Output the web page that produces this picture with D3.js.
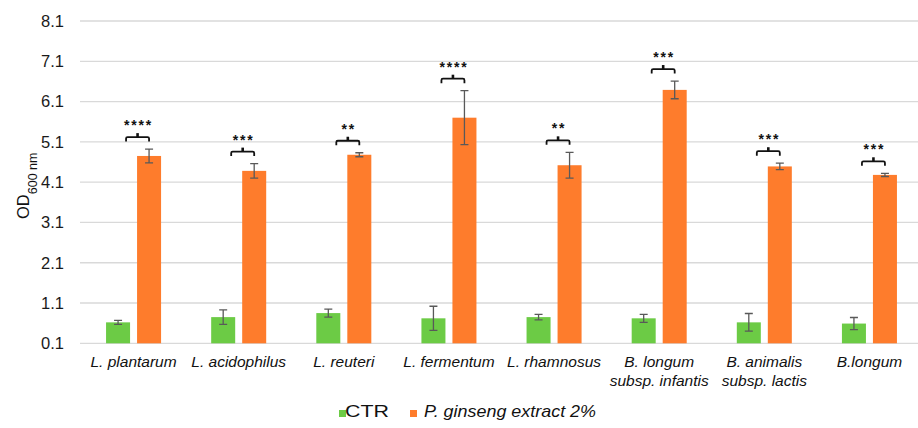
<!DOCTYPE html>
<html>
<head>
<meta charset="utf-8">
<script src="https://cdn.jsdelivr.net/npm/d3@7"></script>
<style>
  html, body { margin: 0; padding: 0; background: #fff; }
  svg { display: block; font-family: "Liberation Sans", Arial, sans-serif; }
</style>
</head>
<body>
<svg id="chart" width="918" height="428"></svg>
<script>
// Strains (multi-line labels split on "\n")
const categories = [
  "L. plantarum", "L. acidophilus", "L. reuteri", "L. fermentum",
  "L. rhamnosus", "B. longum\nsubsp. infantis", "B. animalis\nsubsp. lactis", "B.longum"
];
// OD600 means and standard deviations
const ctrValues   = [0.62, 0.75, 0.85, 0.72, 0.75, 0.72, 0.62, 0.59];
const ctrErrors   = [0.05, 0.18, 0.10, 0.30, 0.07, 0.10, 0.22, 0.15];
const ginsValues  = [4.75, 4.38, 4.78, 5.70, 4.52, 6.39, 4.49, 4.28];
const ginsErrors  = [0.17, 0.18, 0.05, 0.67, 0.32, 0.22, 0.08, 0.04];
const significance = ["****", "***", "**", "****", "**", "***", "***", "***"];
const seriesNames = ["CTR", "P. ginseng extract 2%"];
const yTicks = [0.1, 1.1, 2.1, 3.1, 4.1, 5.1, 6.1, 7.1, 8.1];

const colors = { ctr: "#6ccb45", gins: "#fe7c2c" };

const svg = d3.select("#chart");

const x = d3.scaleBand().domain(categories).range([81, 922]).padding(0);
const inner = d3.scaleBand().domain(["ctr", "gins"])
  .range([0, x.bandwidth()])
  .paddingInner(7 / 31).paddingOuter(0.808);
const y = d3.scaleLinear().domain([0.1, 8.1]).range([343.3, 21]);

// Horizontal gridlines
svg.append("g").selectAll("line").data(yTicks).join("line")
  .attr("x1", 80).attr("x2", 918)
  .attr("y1", d => y(d)).attr("y2", d => y(d))
  .attr("stroke", "#d9d9d9").attr("stroke-width", 1.3);

// Y axis tick labels
const yAxis = d3.axisLeft(y).tickValues(yTicks).tickFormat(d3.format(".1f")).tickSize(0).tickPadding(0);
const yg = svg.append("g").attr("transform", "translate(64,0)").call(yAxis);
yg.select(".domain").remove();
yg.selectAll("text")
  .attr("font-size", 16.5).attr("fill", "#1a1a1a")
  .attr("font-family", "Liberation Sans, Arial, sans-serif");

// Y axis title: OD with subscript
const yt = svg.append("text")
  .attr("transform", "translate(29,219) rotate(-90)")
  .attr("text-anchor", "start").attr("fill", "#111");
yt.append("tspan").attr("font-size", 16.5).text("OD");
yt.append("tspan").attr("font-size", 12.5).attr("dy", 8).text("600 nm");

// Bars
const rows = categories.map((c, i) => ({
  cat: c, ctr: ctrValues[i], ctrErr: ctrErrors[i],
  gins: ginsValues[i], ginsErr: ginsErrors[i], sig: significance[i]
}));

const groups = svg.append("g").selectAll("g").data(rows).join("g")
  .attr("transform", d => `translate(${x(d.cat)},0)`);

["ctr", "gins"].forEach(key => {
  groups.append("rect")
    .attr("x", inner(key))
    .attr("width", inner.bandwidth())
    .attr("y", d => y(d[key]))
    .attr("height", d => y(0.1) - y(d[key]))
    .attr("fill", colors[key]);

  const errKey = key + "Err";
  const cx = inner(key) + inner.bandwidth() / 2;
  const capW = 4;
  groups.append("path")
    .attr("d", d => {
      const t = y(d[key] + d[errKey]), b = y(d[key] - d[errKey]);
      return `M${cx},${t}V${b}M${cx - capW},${t}H${cx + capW}M${cx - capW},${b}H${cx + capW}`;
    })
    .attr("fill", "none").attr("stroke", "#595959").attr("stroke-width", 1.3);
});

// Significance brackets and stars
const bx = x.bandwidth() / 2 + 4;
const bw = 11.5;
groups.append("path")
  .attr("d", d => {
    const ly = y(d.gins + d.ginsErr) - 12;
    return `M${bx - bw},${ly + 4.5}V${ly + 1.5}Q${bx - bw},${ly} ${bx - bw + 1.5},${ly}` +
      `H${bx + bw - 1.5}Q${bx + bw},${ly} ${bx + bw},${ly + 1.5}V${ly + 4.5}`;
  })
  .attr("fill", "none").attr("stroke", "#111").attr("stroke-width", 1.8);
groups.append("path")
  .attr("d", d => {
    const ly = y(d.gins + d.ginsErr) - 12;
    return `M${bx},${ly}V${ly - 4}`;
  })
  .attr("fill", "none").attr("stroke", "#111").attr("stroke-width", 2.6);

groups.append("text")
  .attr("x", bx + 1)
  .attr("y", d => y(d.gins + d.ginsErr) - 19)
  .attr("text-anchor", "middle")
  .attr("font-size", 14).attr("font-weight", "bold")
  .attr("letter-spacing", 1.8)
  .attr("fill", "#111")
  .text(d => d.sig);

// Category labels
const xl = svg.append("g").selectAll("text").data(categories).join("text")
  .attr("x", d => x(d) + x.bandwidth() / 2)
  .attr("y", 367)
  .attr("text-anchor", "middle")
  .attr("font-size", 15.5).attr("font-style", "italic").attr("fill", "#111");
xl.each(function (d) {
  const lines = d.split("\n");
  const t = d3.select(this);
  lines.forEach((ln, i) => {
    t.append("tspan")
      .attr("x", x(d) + x.bandwidth() / 2)
      .attr("dy", i === 0 ? 0 : 18.5)
      .text(ln);
  });
});

// Legend
const legend = svg.append("g");
const legendItems = [
  { name: seriesNames[0], color: colors.ctr, sx: 339, tx: 345, len: 44, italic: false },
  { name: seriesNames[1], color: colors.gins, sx: 410, tx: 424, len: 172, italic: true }
];
legendItems.forEach(it => {
  legend.append("rect").attr("x", it.sx).attr("y", 410).attr("width", 7).attr("height", 7)
    .attr("fill", it.color);
  legend.append("text").attr("x", it.tx).attr("y", 417)
    .attr("font-size", 16.5).attr("fill", "#111")
    .attr("font-style", it.italic ? "italic" : "normal")
    .attr("textLength", it.len).attr("lengthAdjust", "spacingAndGlyphs")
    .text(it.name);
});
</script>
</body>
</html>
